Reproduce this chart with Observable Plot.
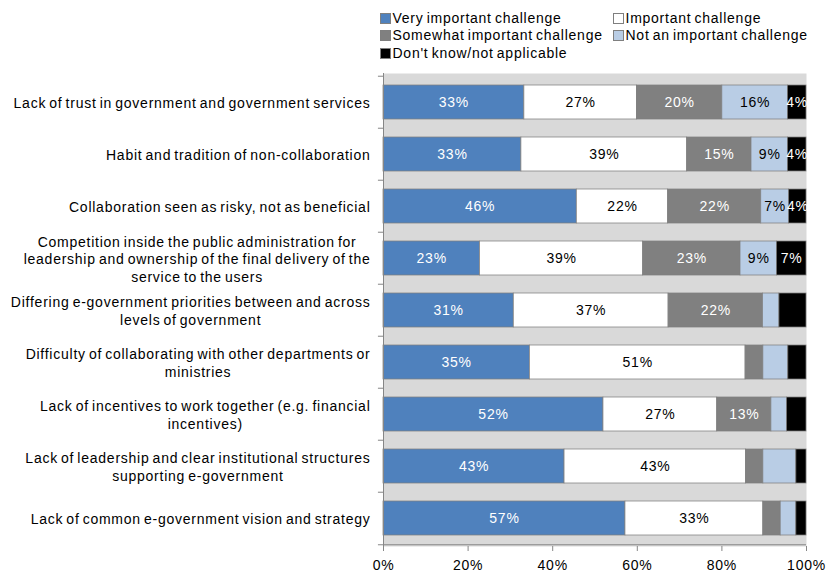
<!DOCTYPE html>
<html><head><meta charset="utf-8">
<script src="https://cdn.jsdelivr.net/npm/d3@7"></script>
<script src="https://cdn.jsdelivr.net/npm/@observablehq/plot@0.6"></script>
<style>
body{margin:0;background:#fff;font-family:"Liberation Sans",Arial,sans-serif;}
#legend{position:relative;height:62px;width:827px;}
.item{position:absolute;font-size:14px;letter-spacing:0.75px;word-spacing:-1.5px;white-space:nowrap;line-height:18px;color:#000;}
.sw{position:absolute;left:0;top:4px;width:9px;height:9px;border:0.5px solid #7f7f7f;}
.tx{position:absolute;left:12.5px;top:0;}
</style></head><body>
<div id="legend"></div><div id="chart"></div>
<script>
const categories = [
  "Lack of trust in government and government services",
  "Habit and tradition of non-collaboration",
  "Collaboration seen as risky, not as beneficial",
  "Competition inside the public administration for\nleadership and ownership of the final delivery of the\nservice to the users",
  "Differing e-government priorities between and across\nlevels of government",
  "Difficulty of collaborating with other departments or\nministries",
  "Lack of incentives to work together (e.g. financial\nincentives)",
  "Lack of leadership and clear institutional structures\nsupporting e-government",
  "Lack of common e-government vision and strategy"
];
const series = ["Very important challenge","Important challenge","Somewhat important challenge","Not an important challenge","Don't know/not applicable"];
const colors = ["#4F81BD","#FFFFFF","#808080","#B9CDE5","#000000"];
const veryImportant = [33.3,32.6,45.7,22.8,30.8,34.6,52.0,42.8,57.2];
const important     = [26.6,39.2,21.6,38.6,36.6,51.0,26.9,42.9,32.6];
const somewhat      = [20.2,15.2,22.0,23.0,22.3,4.2,12.8,4.1,4.1];
const notImportant  = [15.5,8.6,6.6,8.6,3.9,5.9,3.7,7.8,3.7];
const dontKnow      = [4.4,4.4,4.1,7.0,6.4,4.3,4.6,2.4,2.4];
const veryImportantLabels = ["33%","33%","46%","23%","31%","35%","52%","43%","57%"];
const importantLabels     = ["27%","39%","22%","39%","37%","51%","27%","43%","33%"];
const somewhatLabels      = ["20%","15%","22%","23%","22%","","13%","",""];
const notImportantLabels  = ["16%","9%","7%","9%","","","","",""];
const dontKnowLabels      = ["4%","4%","4%","7%","","","","",""];
const xTicks = [0,20,40,60,80,100];

const values = [veryImportant, important, somewhat, notImportant, dontKnow];
const labels = [veryImportantLabels, importantLabels, somewhatLabels, notImportantLabels, dontKnowLabels];
const lightText = [series[0], series[2], series[4]];

const rows = series.flatMap((s, si) => categories.map((c, ci) => ({
  category: c, series: s, value: values[si][ci], label: labels[si][ci]
})));

// legend
const legend = document.getElementById("legend");
series.forEach((s, i) => {
  const col = i % 2, row = Math.floor(i / 2);
  const it = document.createElement("div");
  it.className = "item";
  it.style.left = (380 + col * 233) + "px";
  it.style.top = (8.7 + row * 17.7) + "px";
  const sw = document.createElement("div");
  sw.className = "sw";
  sw.style.background = colors[i];
  const tx = document.createElement("span");
  tx.className = "tx";
  tx.textContent = s;
  it.appendChild(sw); it.appendChild(tx);
  legend.appendChild(it);
});

const W = 827, H = 510, mT = 11, mB = 26, mL = 383, mR = 21;
const step = (H - mT - mB) / categories.length;
const last = categories[categories.length - 1];

const chart = Plot.plot({
  width: W, height: H,
  marginTop: mT, marginBottom: mB, marginLeft: mL, marginRight: mR,
  style: {fontFamily: '"Liberation Sans", Arial, sans-serif', fontSize: "14px", letterSpacing: "0.75px", wordSpacing: "-1.5px", color: "#000", background: "#fff"},
  x: {domain: [0, 100]},
  y: {domain: categories, paddingInner: 0.35, paddingOuter: 0.175},
  color: {domain: series, range: colors},
  marks: [
    Plot.frame({fill: "#D9D9D9", stroke: null}),
    Plot.barX(rows, Plot.stackX({x: "value", y: "category", fill: "series", stroke: "#7f7f7f", strokeWidth: 0.75})),
    Plot.text(rows, Plot.stackX({x: "value", y: "category", z: "series",
      text: d => lightText.includes(d.series) && d.label ? d.label : null, fill: "white", fontSize: 14})),
    Plot.text(rows, Plot.stackX({x: "value", y: "category", z: "series",
      text: d => !lightText.includes(d.series) && d.label ? d.label : null, fill: "black", fontSize: 14})),
    Plot.ruleX([0], {stroke: "#868686"}),
    Plot.ruleY(categories, {y: d => d, x1: -1.2, x2: 0, dy: -step / 2, stroke: "#868686"}),
    Plot.ruleY([last], {y: d => d, x1: -1.2, x2: 100, dy: step / 2, stroke: "#868686"}),
    Plot.axisX({anchor: "bottom", ticks: xTicks, tickFormat: d => d + "%", tickSize: 5, tickPadding: 9, stroke: "#868686", fill: "black", fontSize: 14, label: null}),
    Plot.axisY({anchor: "left", tickSize: 0, tickPadding: 13, lineHeight: 1.25, fontSize: 14, fill: "black", tickFormat: d => d, label: null})
  ]
});
document.getElementById("chart").appendChild(chart);

// center multi-line labels within their block, block right-aligned at the axis
chart.querySelectorAll('g[aria-label="y-axis tick label"] text').forEach(t => {
  const w = t.getBBox().width;
  t.setAttribute("text-anchor", "middle");
  const tr = t.getAttribute("transform") || "";
  t.setAttribute("transform", tr + ` translate(${-w / 2},0)`);
});
</script>
</body></html>
